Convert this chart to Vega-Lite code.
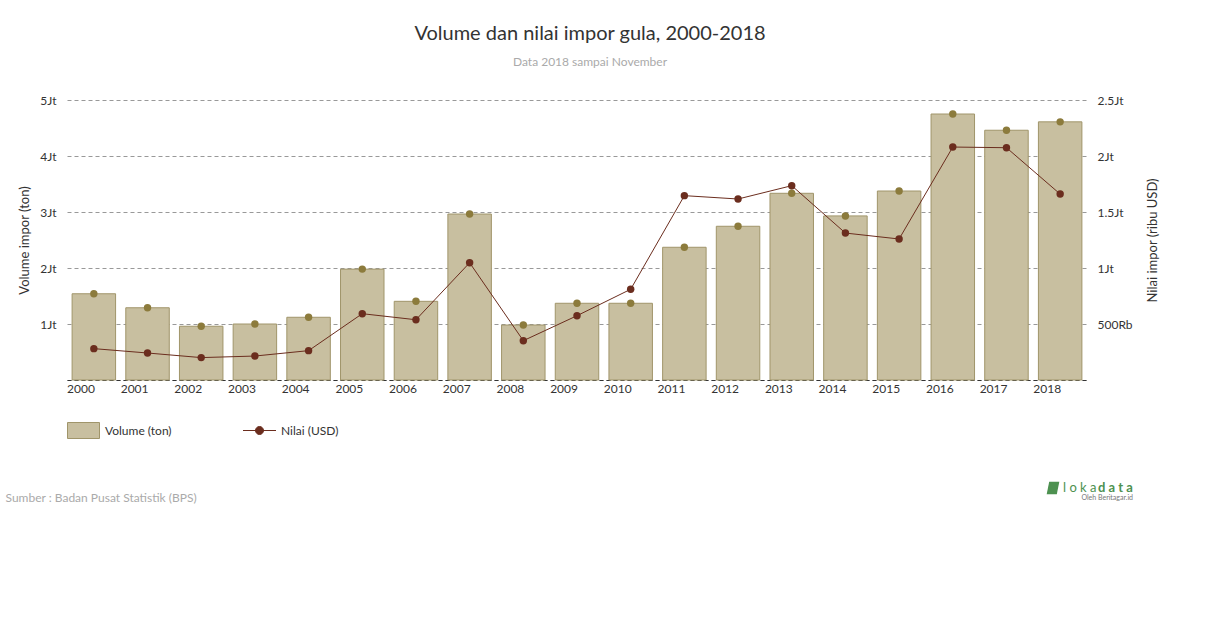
{
  "$schema": "https://vega.github.io/schema/vega-lite/v6.json",
  "autosize": {"type": "none"},
  "width": 1020,
  "height": 280,
  "padding": {"left": 67, "top": 100, "right": 123, "bottom": 248},
  "background": "white",
  "config": {
    "font": "Lato",
    "view": {"stroke": null},
    "axis": {"labelFont": "Lato", "titleFont": "Lato", "labelColor": "#333", "titleColor": "#333", "labelFontSize": 12, "titleFontSize": 13, "titleFontWeight": "normal"},
    "legend": {"labelFont": "Lato", "labelFontSize": 12, "labelColor": "#333"}
  },
  "title": {
    "text": "Volume dan nilai impor gula, 2000-2018",
    "subtitle": "Data 2018 sampai November",
    "anchor": "middle",
    "frame": "group",
    "dx": 13,
    "offset": 26,
    "font": "Lato",
    "fontSize": 20,
    "fontWeight": "normal",
    "color": "#333",
    "subtitleFont": "Lato",
    "subtitleFontSize": 12,
    "subtitleColor": "#aaa",
    "subtitlePadding": 13
  },
  "data": {
    "values": [
      {"year": "2000", "volume": 1540000, "nilai": 280000},
      {"year": "2001", "volume": 1290000, "nilai": 241000},
      {"year": "2002", "volume": 960000, "nilai": 200000},
      {"year": "2003", "volume": 1000000, "nilai": 214000},
      {"year": "2004", "volume": 1120000, "nilai": 262000},
      {"year": "2005", "volume": 1980000, "nilai": 592000},
      {"year": "2006", "volume": 1405000, "nilai": 538000},
      {"year": "2007", "volume": 2964000, "nilai": 1047000},
      {"year": "2008", "volume": 982000, "nilai": 351000},
      {"year": "2009", "volume": 1370000, "nilai": 574000},
      {"year": "2010", "volume": 1370000, "nilai": 810000},
      {"year": "2011", "volume": 2370000, "nilai": 1646000},
      {"year": "2012", "volume": 2745000, "nilai": 1616000},
      {"year": "2013", "volume": 3334000, "nilai": 1735000},
      {"year": "2014", "volume": 2930000, "nilai": 1312000},
      {"year": "2015", "volume": 3375000, "nilai": 1259000},
      {"year": "2016", "volume": 4750000, "nilai": 2080000},
      {"year": "2017", "volume": 4460000, "nilai": 2074000},
      {"year": "2018", "volume": 4610000, "nilai": 1660000}
    ]
  },
  "layer": [
    {
      "layer": [
        {
          "mark": {"type": "bar", "stroke": "#a0956a", "strokeWidth": 1},
          "encoding": {
            "x": {
              "field": "year", "type": "ordinal", "sort": null,
              "scale": {"paddingInner": 0.19, "paddingOuter": 0.095},
              "axis": {
                "title": "Sumber : Badan Pusat Statistik (BPS)",
                "titleAnchor": "start", "titleAlign": "left", "titleX": -62, "titleY": 117,
                "titleBaseline": "middle", "titleColor": "#aaa", "titleFontSize": 12,
                "labelAngle": 0, "labelAlign": "left", "labelOffset": -26.84, "labelPadding": 3,
                "ticks": false, "domainColor": "#333", "domainDash": [4, 3], "domainWidth": 1
              }
            },
            "y": {
              "field": "volume", "type": "quantitative",
              "scale": {"domain": [0, 5000000], "nice": false},
              "axis": {
                "title": "Volume impor (ton)", "orient": "left", "values": [0, 1000000, 2000000, 3000000, 4000000, 5000000],
                "labelExpr": "datum.value == 0 ? '' : (datum.value / 1000000) + 'Jt'",
                "ticks": false, "domain": false, "labelPadding": 11, "titlePadding": 8,
                "grid": true, "gridColor": "#999", "gridDash": [4, 3], "gridWidth": 1
              }
            },
            "fill": {
              "datum": "Volume (ton)", "type": "nominal",
              "scale": {"range": ["#c8bfa0"]},
              "legend": {
                "title": null, "orient": "none", "legendX": 6, "legendY": 320, "padding": 0,
                "symbolType": "M-1.6,-0.8H1.6V0.8H-1.6Z", "symbolSize": 400,
                "symbolStrokeColor": "#a0956a", "symbolStrokeWidth": 1, "labelOffset": 11
              }
            }
          }
        },
        {
          "mark": {"type": "circle", "size": 55, "opacity": 1, "color": "#8c7b3c"},
          "encoding": {
            "x": {"field": "year", "type": "ordinal", "sort": null},
            "y": {"field": "volume", "type": "quantitative"}
          }
        }
      ]
    },
    {
      "layer": [
        {
          "mark": {"type": "line", "strokeWidth": 1},
          "encoding": {
            "x": {"field": "year", "type": "ordinal", "sort": null},
            "y": {
              "field": "nilai", "type": "quantitative",
              "scale": {"domain": [0, 2500000], "nice": false},
              "axis": {
                "title": "Nilai impor (ribu USD)", "orient": "right", "values": [0, 500000, 1000000, 1500000, 2000000, 2500000],
                "labelExpr": "datum.value == 0 ? '' : datum.value < 1000000 ? (datum.value / 1000) + 'Rb' : (datum.value / 1000000) + 'Jt'",
                "ticks": false, "domain": false, "grid": false, "labelPadding": 10,
                "titleAngle": 270, "titleBaseline": "top", "titlePadding": 14
              }
            },
            "stroke": {
              "datum": "Nilai (USD)", "type": "nominal",
              "scale": {"range": ["#6b2d1e"]},
              "legend": {
                "title": null, "orient": "none", "legendX": 182, "legendY": 320, "padding": 0,
                "symbolType": "M-1.65,0H1.65M-0.4,0A0.4,0.4,0,1,0,0.4,0A0.4,0.4,0,1,0,-0.4,0Z",
                "symbolSize": 400, "symbolFillColor": "#6b2d1e", "symbolStrokeWidth": 1, "labelOffset": 11
              }
            }
          }
        },
        {
          "mark": {"type": "circle", "size": 55, "opacity": 1, "color": "#6b2d1e"},
          "encoding": {
            "x": {"field": "year", "type": "ordinal", "sort": null},
            "y": {"field": "nilai", "type": "quantitative"}
          }
        }
      ]
    },
    {
      "data": {"values": [{"t": "loka"}]},
      "mark": {"type": "text", "text": "l o k a", "font": "Lato", "fontSize": 13, "color": "#4d9150", "align": "left", "baseline": "middle"},
      "encoding": {"x": {"value": 996}, "y": {"value": 388}}
    },
    {
      "data": {"values": [{"t": "data"}]},
      "mark": {"type": "text", "text": "d a t a", "font": "Lato", "fontSize": 13, "fontWeight": "bold", "color": "#4d9150", "align": "left", "baseline": "middle"},
      "encoding": {"x": {"value": 1031}, "y": {"value": 388}}
    },
    {
      "data": {"values": [{"t": "oleh"}]},
      "mark": {"type": "text", "text": "Oleh Beritagar.id", "font": "Lato", "fontSize": 7, "color": "#777", "align": "right", "baseline": "middle"},
      "encoding": {"x": {"value": 1066}, "y": {"value": 398}}
    },
    {
      "data": {"values": [{"t": "leaf"}]},
      "mark": {"type": "point", "shape": "M-0.6,-1H1L0.6,1H-1Z", "size": 160, "filled": true, "color": "#4d9150", "opacity": 1},
      "encoding": {"x": {"value": 986}, "y": {"value": 388}}
    }
  ],
  "resolve": {"scale": {"y": "independent"}}
}
